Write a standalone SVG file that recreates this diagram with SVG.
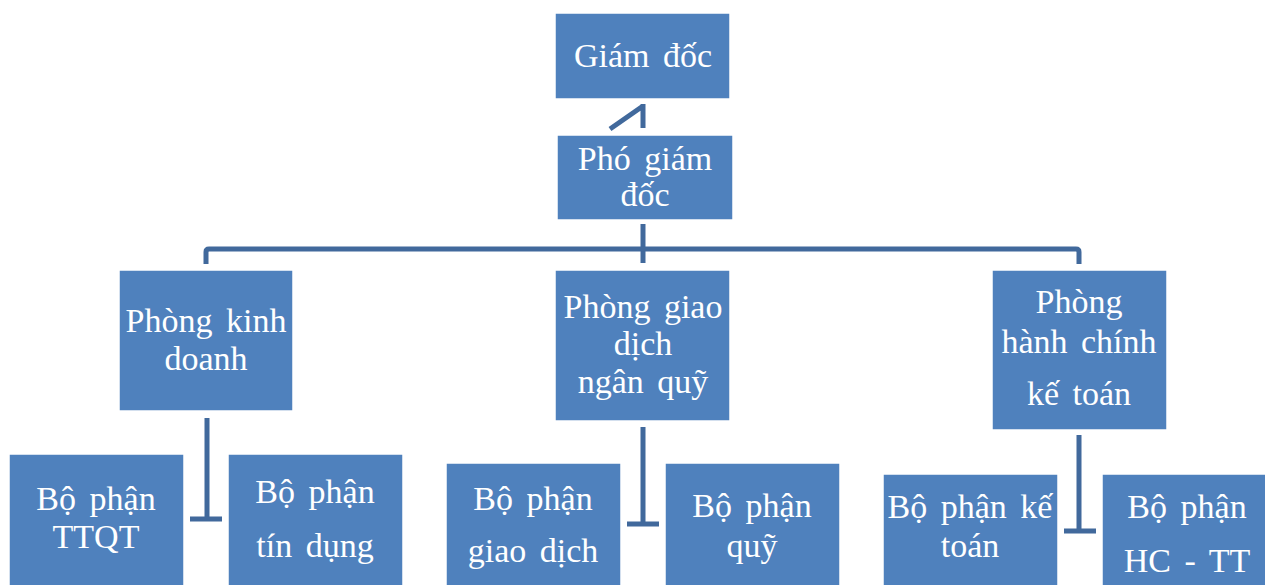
<svg xmlns="http://www.w3.org/2000/svg" width="1265" height="585" viewBox="0 0 1265 585">
<style>
.box{fill:#4F81BD;stroke:#FFFFFF;stroke-width:1.5}
.t{font-family:"Liberation Serif","Times New Roman",serif;font-size:34px;fill:#FFFFFF;text-anchor:middle;word-spacing:5px}
.c{fill:none;stroke:#41699C;stroke-width:5;stroke-linejoin:round}
</style>
<rect width="1265" height="585" fill="#FFFFFF"/>
<g id="connectors">
<path class="c" d="M643 104 V128 M643 106 L610 129"/>
<path class="c" d="M643 224 V263"/>
<path class="c" d="M206 264 V252 Q206 249 209 249 H1076 Q1079 249 1079 252 V264"/>
<path class="c" d="M207 418 V519 M190 519 H222"/>
<path class="c" d="M643 427 V524 M627 524 H659"/>
<path class="c" d="M1079 435 V533 M1064 531 H1096"/>
</g>
<g id="giam-doc">
<rect class="box" x="555" y="13" width="175" height="86"/>
<text class="t" x="643" y="67">Giám đốc</text>
</g>
<g id="pho-giam-doc">
<rect class="box" x="557" y="135" width="176" height="85"/>
<text class="t" x="645" y="170">Phó giám</text>
<text class="t" x="645" y="206">đốc</text>
</g>
<g id="phong-kinh-doanh">
<rect class="box" x="119" y="270" width="174" height="141"/>
<text class="t" x="206" y="332">Phòng kinh</text>
<text class="t" x="206" y="370">doanh</text>
</g>
<g id="phong-giao-dich">
<rect class="box" x="555" y="270" width="175" height="151"/>
<text class="t" x="643" y="318">Phòng giao</text>
<text class="t" x="643" y="355">dịch</text>
<text class="t" x="643" y="393">ngân quỹ</text>
</g>
<g id="phong-hanh-chinh">
<rect class="box" x="992" y="270" width="175" height="160"/>
<text class="t" x="1079" y="313">Phòng</text>
<text class="t" x="1079" y="353">hành chính</text>
<text class="t" x="1079" y="405">kế toán</text>
</g>
<g id="bp-ttqt">
<rect class="box" x="9" y="454" width="175" height="140"/>
<text class="t" x="96" y="510">Bộ phận</text>
<text class="t" x="96" y="548">TTQT</text>
</g>
<g id="bp-tin-dung">
<rect class="box" x="228" y="454" width="175" height="140"/>
<text class="t" x="315" y="503">Bộ phận</text>
<text class="t" x="315" y="557">tín dụng</text>
</g>
<g id="bp-giao-dich">
<rect class="box" x="446" y="463" width="175" height="140"/>
<text class="t" x="533" y="510">Bộ phận</text>
<text class="t" x="533" y="562">giao dịch</text>
</g>
<g id="bp-quy">
<rect class="box" x="665" y="463" width="175" height="140"/>
<text class="t" x="752" y="517">Bộ phận</text>
<text class="t" x="752" y="557">quỹ</text>
</g>
<g id="bp-ke-toan">
<rect class="box" x="883" y="474" width="175" height="130"/>
<text class="t" x="970" y="518">Bộ phận kế</text>
<text class="t" x="970" y="557">toán</text>
</g>
<g id="bp-hc-tt">
<rect class="box" x="1102" y="474" width="175" height="130"/>
<text class="t" x="1187" y="518">Bộ phận</text>
<text class="t" x="1187" y="572">HC - TT</text>
</g>
</svg>
